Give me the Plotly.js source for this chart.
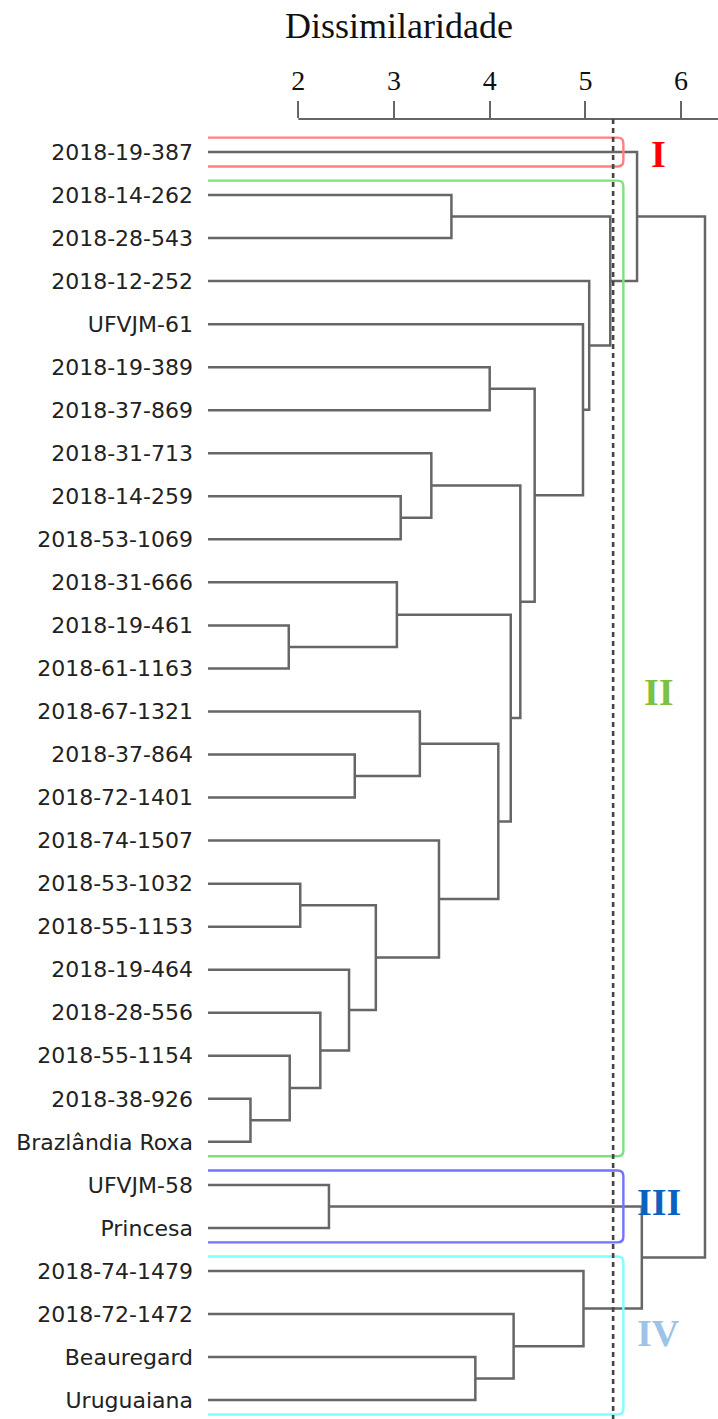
<!DOCTYPE html>
<html>
<head>
<meta charset="utf-8">
<script src="https://cdn.plot.ly/plotly-3.0.1.min.js"></script>
<style>html,body{margin:0;padding:0;background:#fff;}#chart{width:718px;height:1419px;}</style>
</head>
<body>
<div id="chart"></div>
<script>
// ---- data ----
var leafLabels = [
  "2018-19-387","2018-14-262","2018-28-543","2018-12-252","UFVJM-61",
  "2018-19-389","2018-37-869","2018-31-713","2018-14-259","2018-53-1069",
  "2018-31-666","2018-19-461","2018-61-1163","2018-67-1321","2018-37-864",
  "2018-72-1401","2018-74-1507","2018-53-1032","2018-55-1153","2018-19-464",
  "2018-28-556","2018-55-1154","2018-38-926","Brazlândia Roxa","UFVJM-58",
  "Princesa","2018-74-1479","2018-72-1472","Beauregard","Uruguaiana"
];
// merges: [childA, childB, height]; indices >= 30 refer to earlier merges (30 + k)
var mergeA = [22,11,21,17,20,24,19,14,33,10, 8,13, 7,16, 1,28, 5,41,39,27,42,46, 4,26, 3,44, 0,35,56];
var mergeB = [23,12,30,18,32,25,34,15,36,31, 9,37,40,38, 2,29, 6,43,47,45,48,50,51,49,52,54,55,53,57];
var mergeH = [1.50,1.90,1.91,2.02,2.23,2.32,2.53,2.59,2.81,3.03,3.07,3.27,3.39,3.47,3.60,3.85,4.00,4.09,4.22,4.25,4.32,4.47,4.975,4.98,5.04,5.26,5.54,5.59,6.25];
var tickVals = [2,3,4,5,6];
var cutHeight = 5.29;
var clusterNames = ["I","II","III","IV"];
var clusterFirst = [0,1,24,26];
var clusterLast  = [0,23,25,29];
var clusterColors = ["#ff0000","#7cc142","#0b63bf","#9dc3e6"];
var clusterBoxColors = ["#ff8080","#7fe07f","#7272ff","#80ffff"];

// ---- build dendrogram segments ----
var n = leafLabels.length;
var nodeX = [], nodeY = [];
for (var i = 0; i < n; i++) { nodeX.push(0); nodeY.push(i); }
var lx = [], ly = [];
for (var k = 0; k < mergeH.length; k++) {
  var a = mergeA[k], b = mergeB[k], h = mergeH[k];
  lx.push(nodeX[a], h, h, nodeX[b], null);
  ly.push(nodeY[a], nodeY[a], nodeY[b], nodeY[b], null);
  nodeX.push(h); nodeY.push((nodeY[a] + nodeY[b]) / 2);
}

var xr = [1.056, 6.386];
var yr = [29.44, -0.767];

var traces = [{
  type: "scatter", mode: "lines", x: lx, y: ly,
  line: {color: "#666666", width: 2.5}, hoverinfo: "skip", showlegend: false
}];

var shapes = [];
// axis line from 2 to right edge
shapes.push({type: "line", xref: "paper", yref: "paper",
  x0: (2 - xr[0]) / (xr[1] - xr[0]), x1: 1, y0: 1, y1: 1,
  line: {color: "#666", width: 2.2}});
// cluster boxes
var boxRight = 5.397, rx = 0.06, ry = 0.13, pad = 0.335;
for (var c = 0; c < clusterNames.length; c++) {
  var y0 = clusterFirst[c] - pad, y1 = clusterLast[c] + pad, x0 = 0;
  var p = "M" + x0 + "," + y0 + " L" + (boxRight - rx) + "," + y0 +
          " Q" + boxRight + "," + y0 + " " + boxRight + "," + (y0 + ry) +
          " L" + boxRight + "," + (y1 - ry) +
          " Q" + boxRight + "," + y1 + " " + (boxRight - rx) + "," + y1 +
          " L" + x0 + "," + y1;
  shapes.push({type: "path", xref: "x", yref: "y", path: p,
    line: {color: clusterBoxColors[c], width: 2.4}, layer: "above"});
}
// cut line
shapes.push({type: "line", xref: "x", yref: "y", x0: cutHeight, x1: cutHeight,
  y0: yr[1], y1: yr[0], line: {color: "#444", width: 2.6, dash: "5px,4px"}, layer: "above"});

var annotations = [];
for (var c2 = 0; c2 < clusterNames.length; c2++) {
  annotations.push({xref: "x", yref: "y", x: 5.765,
    y: [0.05, 12.54, 24.39, 27.43][c2],
    text: "<b>" + clusterNames[c2] + "</b>", showarrow: false,
    xanchor: "center", yanchor: "middle",
    font: {family: "Liberation Serif", size: 38, color: clusterColors[c2]}});
}

var layout = {
  width: 718, height: 1419,
  margin: {l: 208, r: 0, t: 119, b: 0},
  paper_bgcolor: "#fff", plot_bgcolor: "#fff",
  showlegend: false,
  title: {text: "Dissimilaridade", font: {family: "Liberation Serif", size: 36, color: "#111"},
    xref: "paper", x: (399 - 208) / 510, xanchor: "center",
    yref: "container", y: 1 - 25 / 1419, yanchor: "middle"},
  xaxis: {range: xr, side: "top", tickvals: tickVals, ticktext: tickVals.map(String),
    ticks: "outside", ticklen: 17, tickwidth: 2.2, tickcolor: "#666",
    showline: false, showgrid: false, zeroline: false, fixedrange: true,
    tickfont: {family: "Liberation Serif", size: 28, color: "#111"}},
  yaxis: {range: yr, tickvals: leafLabels.map(function(_, i){return i;}), ticktext: leafLabels,
    ticks: "", ticklabelstandoff: 14, showline: false, showgrid: false, zeroline: false,
    fixedrange: true,
    tickfont: {family: "DejaVu Sans", size: 22, color: "#222"}},
  shapes: shapes,
  annotations: annotations
};

Plotly.newPlot("chart", traces, layout, {displayModeBar: false, staticPlot: true});
</script>
</body>
</html>
